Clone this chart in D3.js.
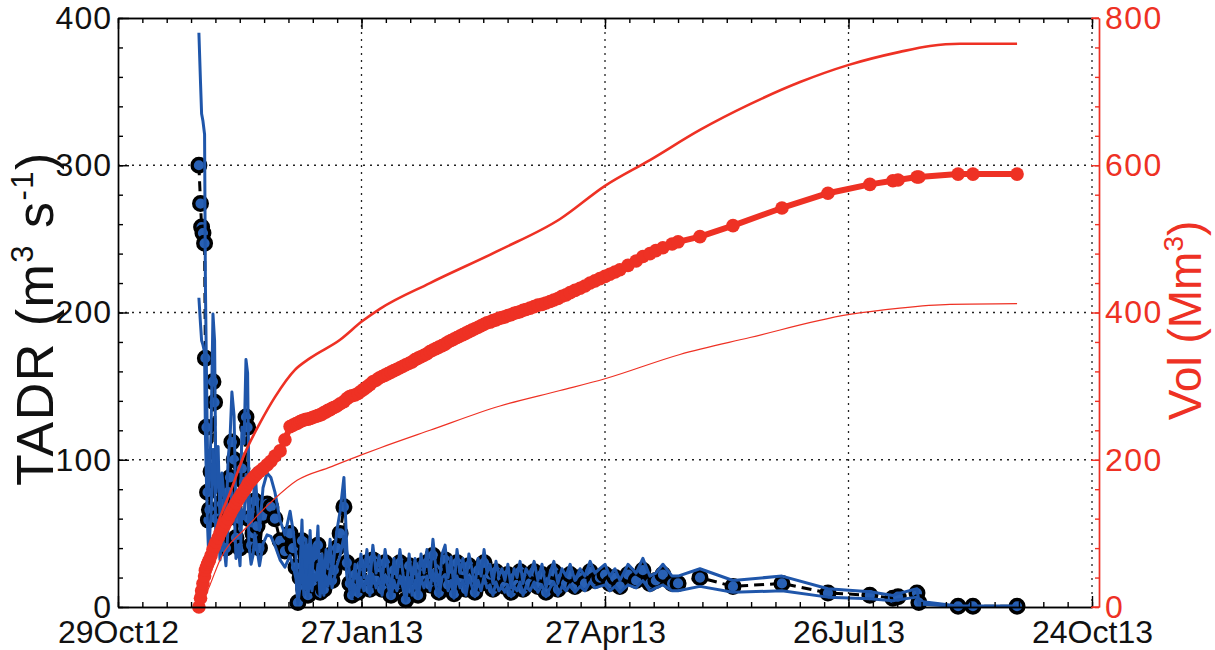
<!DOCTYPE html>
<html><head><meta charset="utf-8">
<script src="https://cdn.jsdelivr.net/npm/d3@7"></script>
<style>
body{margin:0;background:#fff}
svg{display:block}
text{font-family:"Liberation Sans",Arial,Helvetica,sans-serif}
</style>
</head><body>
<svg id="chart" width="1215" height="650"></svg>
<script>
// ---------------- data ----------------
const startDate = [2012, 9, 29];          // 29 Oct 2012 (day 0)
const endDay = 360;                       // 24 Oct 2013
const xTickDays = [0, 90, 180, 270, 360];
const xTickLabels = ["29Oct12", "27Jan13", "27Apr13", "26Jul13", "24Oct13"];
const yLeftTicks = [0, 100, 200, 300, 400];
const yRightTicks = [0, 200, 400, 600, 800];
const yLeftLabel = "TADR";
const yRightLabel = "Vol";

// TADR (m3/s): days since 29Oct12, central estimate, upper and lower bounds
const tadrDays = [29.9,30.5,30.9,31.4,32.0,32.3,32.7,33.1,33.4,33.8,34.4,35.1,35.7,36.2,37.0,37.7,38.4,39.2,39.9,40.7,
41.4,42.1,42.9,43.6,44.4,45.1,45.8,46.6,47.3,47.9,48.4,49.2,49.9,50.6,51.4,52.3,53.6,55.1,56.5,58.0,
59.9,61.7,63.6,64.7,65.8,66.5,67.3,68.0,68.7,69.5,70.2,71.0,71.7,72.4,73.2,73.9,74.7,75.4,76.1,76.9,
77.6,78.4,79.1,79.8,80.9,82.1,83.5,84.6,85.7,86.5,87.6,88.7,89.8,90.9,92.0,93.1,94.2,95.4,96.5,97.6,
98.7,99.8,100.9,102.0,103.1,104.2,105.3,106.4,107.6,108.7,109.8,110.9,112.0,113.1,114.2,115.3,116.4,117.5,118.6,119.8,
120.9,122.0,123.1,124.2,125.3,126.4,127.5,128.6,129.7,130.8,131.9,133.1,134.2,135.3,136.4,137.5,138.6,139.7,140.8,141.9,
143.0,144.1,145.3,146.4,147.5,148.6,149.7,150.8,152.3,153.8,155.2,156.7,158.2,159.7,161.1,162.6,164.1,165.6,167.1,168.9,
170.8,172.6,174.5,176.3,178.1,180.0,181.8,183.7,185.5,188.5,191.5,194.0,196.6,198.8,201.4,204.8,207.0,215.1,227.3,245.4,
262.4,277.9,286.4,288.3,295.3,296.0,310.5,316.0,332.3];
const tadrVals = [300,274,258,254,247,169,122,78,59,66,92,153,139,60,84,45,70,58,40,78,
88,112,100,47,60,40,94,85,129,122,60,42,50,72,55,40,62,70,68,60,
45,38,50,40,27,3,20,45,12,35,8,40,15,32,25,42,10,28,12,30,
20,35,18,25,40,50,68,30,16,8,22,10,28,15,30,12,32,18,27,12,
30,20,8,25,15,30,18,5,28,12,25,8,28,18,30,15,35,20,10,28,
32,15,26,9,30,18,25,12,28,20,10,25,16,30,18,22,12,24,16,20,
14,22,10,20,15,24,12,20,16,24,14,22,10,18,24,12,20,16,22,14,
20,16,24,18,20,22,16,20,14,22,18,25,16,18,22,16,16,20,14,16,
9.5,8,6,7,9.5,3,0.5,0.5,0.5];
const tadrUpper = [390,356,335,330,321,220,159,101,77,86,120,199,181,78,109,59,91,75,52,101,
114,146,130,61,78,52,122,111,168,159,78,55,65,94,72,52,81,91,88,78,
59,49,65,52,35,4,26,59,16,46,10,52,20,42,33,55,13,36,16,39,
26,46,23,33,52,65,88,39,21,10,29,13,36,20,39,16,42,23,35,16,
39,26,10,33,20,39,23,7,36,16,33,10,36,23,39,20,46,26,13,36,
42,20,34,12,39,23,33,16,36,26,13,33,21,39,23,29,16,31,21,26,
18,29,13,26,20,31,16,26,21,31,18,29,13,23,31,16,26,21,29,18,
26,21,31,23,26,29,21,26,18,29,23,33,21,23,29,21,21,26,18,21,
12.4,10.4,7.8,9.1,12.4,3.9,0.7,0.7,0.7];
const tadrLower = [210,192,181,178,173,118,85,55,41,46,64,107,97,42,59,32,49,41,28,55,
62,78,70,33,42,28,66,60,90,85,42,29,35,50,39,28,43,49,48,42,
32,27,35,28,19,2,14,32,8,25,6,28,11,22,18,29,7,20,8,21,
14,25,13,18,28,35,48,21,11,6,15,7,20,11,21,8,22,13,19,8,
21,14,6,18,11,21,13,4,20,8,18,6,20,13,21,11,25,14,7,20,
22,11,18,6,21,13,18,8,20,14,7,18,11,21,13,15,8,17,11,14,
10,15,7,14,11,17,8,14,11,17,10,15,7,13,17,8,14,11,15,10,
14,11,17,13,14,15,11,14,10,15,13,18,11,13,15,11,11,14,10,11,
6.7,5.6,4.2,4.9,6.7,2.1,0.4,0.4,0.4];

// Cumulative volume (Mm3): central (with markers), upper and lower
const volDays = [29.9,30.5,30.9,31.4,32.0,32.3,32.7,33.1,33.4,33.8,34.4,35.1,35.7,36.2,37.0,37.7,38.4,39.2,39.9,40.7,
41.4,42.1,42.9,43.6,44.4,45.1,45.8,46.6,47.3,47.9,48.4,49.2,49.9,50.6,51.4,52.3,53.6,55.1,56.5,58.0,
59.9,61.7,63.6,64.7,65.8,66.5,67.3,68.0,68.7,69.5,70.2,71.0,71.7,72.4,73.2,73.9,74.7,75.4,76.1,76.9,
77.6,78.4,79.1,79.8,80.9,82.1,83.5,84.6,85.7,86.5,87.6,88.7,89.8,90.9,92.0,93.1,94.2,95.4,96.5,97.6,
98.7,99.8,100.9,102.0,103.1,104.2,105.3,106.4,107.6,108.7,109.8,110.9,112.0,113.1,114.2,115.3,116.4,117.5,118.6,119.8,
120.9,122.0,123.1,124.2,125.3,126.4,127.5,128.6,129.7,130.8,131.9,133.1,134.2,135.3,136.4,137.5,138.6,139.7,140.8,141.9,
143.0,144.1,145.3,146.4,147.5,148.6,149.7,150.8,152.3,153.8,155.2,156.7,158.2,159.7,161.1,162.6,164.1,165.6,167.1,168.9,
170.8,172.6,174.5,176.3,178.1,180.0,181.8,183.7,185.5,188.5,191.5,194.0,196.6,198.8,201.4,204.8,207.0,215.1,227.3,245.4,
262.4,277.9,286.4,288.3,295.3,296.0,310.5,316.0,332.3];
const volVals = [0,12,22,32,42,50,54,58,61,64,70,78,83,88,94,100,105,110,115,120,
126,131,136,141,146,150,154,158,162,166,169,172,175,178,181,184,188,193,198,205,
212,227,245,247,249,250,252,253,254,255,255,256,257,258,259,260,261,262,264,265,
267,268,270,271,273,276,279,283,286,287,288,290,293,296,299,302,306,308,311,313,
315,317,319,321,323,325,327,329,331,333,336,338,340,342,344,347,349,351,353,355,
357,360,362,364,366,368,370,372,374,376,378,380,382,384,386,387,389,390,392,393,
394,396,397,399,400,401,403,404,406,408,410,411,413,415,417,419,422,424,427,430,
433,436,440,443,446,449,452,455,458,464,470,476,480,484,488,493,496,503,518,542,
562,574,579,580,584,584,588,588,588];
const volUpperDays = [30.3,32.2,34.0,36.6,41.4,46.9,52.5,58.0,65.4,71.0,82.1,90.2,96.8,115.3,141.2,163.4,180.0,196.6,215.1,233.6,
252.1,269.8,289.0,300.1,311.2,332.3];
const volUpperVals = [0,30,70,109,155,209,250,285,322,338,363,388,405,440,485,527,572,607,648,683,
713,736,754,762,765,765];
const volLowerDays = [30.3,34.0,37.7,47.7,57.3,66.2,78.4,90.2,96.8,115.3,141.2,163.4,180.0,207.7,233.6,269.8,289.0,307.5,332.3];
const volLowerVals = [0,30,64,109,145,172,190,207,216,240,273,294,310,343,366,397,406,411,412];

// ---------------- drawing ----------------
const L = 118, R = 1092, T = 18, B = 607, RAX = 1099;
const RED = "#ee3124", BLUE = "#1f56aa", MFILL = "#2860b4";
const t0 = Date.UTC(startDate[0], startDate[1], startDate[2]);
const day = d => new Date(t0 + d * 864e5);

const x = d3.scaleUtc().domain([day(0), day(endDay)]).range([L, R]);
const yL = d3.scaleLinear().domain([0, 400]).range([B, T]);
const yR = d3.scaleLinear().domain([0, 800]).range([B, T]);

const svg = d3.select("#chart");

// grid
const grid = svg.append("g").attr("stroke", "#222").attr("stroke-width", 1.3).attr("stroke-dasharray", "2,5");
yLeftTicks.filter(v => v > 0 && v < 400).forEach(v => {
  grid.append("line").attr("x1", L).attr("x2", R).attr("y1", yL(v)).attr("y2", yL(v));
});
xTickDays.filter(d => d > 0).forEach(d => {
  grid.append("line").attr("x1", x(day(d))).attr("x2", x(day(d))).attr("y1", T).attr("y2", B);
});

// TADR series
const tadr = tadrDays.map((d, i) => ({ t: day(d), v: tadrVals[i], u: tadrUpper[i], l: tadrLower[i] }));
const lineC = d3.line().x(d => x(d.t)).y(d => yL(d.v));
const lineU = d3.line().x(d => x(d.t)).y(d => yL(d.u));
const lineLo = d3.line().x(d => x(d.t)).y(d => yL(d.l));

svg.append("path").datum(tadr).attr("d", lineC).attr("fill", "none")
  .attr("stroke", "#000").attr("stroke-width", 3).attr("stroke-dasharray", "10,6");
svg.append("g").selectAll("circle").data(tadr).join("circle")
  .attr("cx", d => x(d.t)).attr("cy", d => yL(d.v)).attr("r", 6.8)
  .attr("fill", MFILL).attr("stroke", "#000").attr("stroke-width", 3.4);
svg.append("path").datum(tadr).attr("d", lineU).attr("fill", "none")
  .attr("stroke", BLUE).attr("stroke-width", 3).attr("stroke-linejoin", "round");
svg.append("path").datum(tadr).attr("d", lineLo).attr("fill", "none")
  .attr("stroke", BLUE).attr("stroke-width", 3).attr("stroke-linejoin", "round");

// Volume series
const vUp = volUpperDays.map((d, i) => ({ t: day(d), v: volUpperVals[i] }));
const vLo = volLowerDays.map((d, i) => ({ t: day(d), v: volLowerVals[i] }));
const vC = volDays.map((d, i) => ({ t: day(d), v: volVals[i] }));
const lineV = d3.line().x(d => x(d.t)).y(d => yR(d.v)).curve(d3.curveMonotoneX);
svg.append("path").datum(vUp).attr("d", lineV).attr("fill", "none").attr("stroke", RED).attr("stroke-width", 2.6);
svg.append("path").datum(vLo).attr("d", lineV).attr("fill", "none").attr("stroke", RED).attr("stroke-width", 1.2);
svg.append("path").datum(vC).attr("d", d3.line().x(d => x(d.t)).y(d => yR(d.v))).attr("fill", "none")
  .attr("stroke", RED).attr("stroke-width", 6).attr("stroke-linejoin", "round");
svg.append("g").selectAll("circle").data(vC).join("circle")
  .attr("cx", d => x(d.t)).attr("cy", d => yR(d.v)).attr("r", 6.8).attr("fill", RED);

// axes
const FS = 32;
const minorX = d3.range(0, endDay + 1, 9).map(day);
const majorX = xTickDays.map(day);

function styleAxis(g, color) {
  g.select(".domain").attr("stroke", color).attr("stroke-width", 1.4);
  g.selectAll(".tick line").attr("stroke", color).attr("stroke-width", 1.4);
}

// bottom
const gb = svg.append("g").attr("transform", `translate(0,${B})`);
gb.call(d3.axisBottom(x).tickValues(minorX).tickSize(-5).tickSizeOuter(0).tickFormat(""));
styleAxis(gb, "#000");
const gb2 = svg.append("g").attr("transform", `translate(0,${B})`);
gb2.call(d3.axisBottom(x).tickValues(majorX).tickSize(-11).tickSizeOuter(0).tickPadding(13)
  .tickFormat((d, i) => xTickLabels[i]));
styleAxis(gb2, "#000");
gb2.selectAll("text").attr("font-size", FS).attr("fill", "#111").attr("dy", "0.71em");

// top
const gt = svg.append("g").attr("transform", `translate(0,${T})`);
gt.call(d3.axisTop(x).tickValues(minorX).tickSize(-5).tickSizeOuter(0).tickFormat(""));
styleAxis(gt, "#000");
const gt2 = svg.append("g").attr("transform", `translate(0,${T})`);
gt2.call(d3.axisTop(x).tickValues(majorX).tickSize(-11).tickSizeOuter(0).tickFormat(""));
styleAxis(gt2, "#000");

// left
const gl = svg.append("g").attr("transform", `translate(${L},0)`);
gl.call(d3.axisLeft(yL).tickValues(d3.range(0, 401, 20)).tickSize(-5).tickSizeOuter(0).tickFormat(""));
styleAxis(gl, "#000");
const gl2 = svg.append("g").attr("transform", `translate(${L},0)`);
gl2.call(d3.axisLeft(yL).tickValues(yLeftTicks).tickSize(-11).tickSizeOuter(0).tickPadding(6));
styleAxis(gl2, "#000");
gl2.selectAll("text").attr("font-size", 32).attr("fill", "#111").attr("letter-spacing", "1px");

// right (red)
const gr = svg.append("g").attr("transform", `translate(${RAX},0)`);
gr.call(d3.axisRight(yR).tickValues(d3.range(0, 801, 40)).tickSize(-4).tickSizeOuter(0).tickFormat(""));
styleAxis(gr, RED);
const gr2 = svg.append("g").attr("transform", `translate(${RAX},0)`);
gr2.call(d3.axisRight(yR).tickValues(yRightTicks).tickSize(-8).tickSizeOuter(0).tickPadding(6));
styleAxis(gr2, RED);
gr2.selectAll("text").attr("font-size", 32).attr("fill", RED).attr("letter-spacing", "1.5px");
svg.append("line").attr("x1", R).attr("x2", RAX).attr("y1", T).attr("y2", T).attr("stroke", RED).attr("stroke-width", 1.4);
svg.append("line").attr("x1", R).attr("x2", RAX).attr("y1", B).attr("y2", B).attr("stroke", RED).attr("stroke-width", 1.4);

svg.selectAll(".tick text").attr("font-family", '"Liberation Sans",Arial,sans-serif');

// axis titles
const tl = svg.append("text").attr("transform", `translate(53,${(T + B) / 2 + 6}) rotate(-90)`)
  .attr("text-anchor", "middle").attr("font-size", 52).attr("fill", "#111").attr("letter-spacing", "1.5px");
tl.append("tspan").text(yLeftLabel + " (m");
tl.append("tspan").text("3").attr("font-size", 31).attr("dy", -20);
tl.append("tspan").text(" s").attr("dy", 20);
tl.append("tspan").text("-1").attr("font-size", 31).attr("dy", -20);
tl.append("tspan").text(")").attr("dy", 20);

const tr = svg.append("text").attr("transform", `translate(1201,${(T + B) / 2 + 8}) rotate(-90)`)
  .attr("text-anchor", "middle").attr("font-size", 46).attr("fill", RED);
tr.append("tspan").text(yRightLabel + " (Mm");
tr.append("tspan").text("3").attr("font-size", 28).attr("dy", -18);
tr.append("tspan").text(")").attr("dy", 18);
</script>
</body></html>
